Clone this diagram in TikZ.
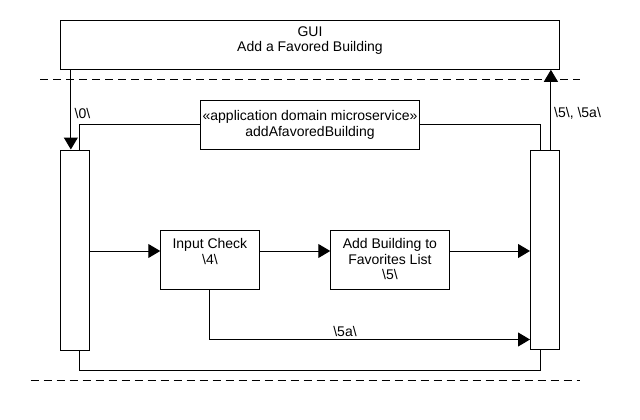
\documentclass[tikz,border=0pt]{standalone}
\usepackage{fontspec}
\setmainfont{Liberation Sans}
\usetikzlibrary{arrows.meta}
\begin{document}
\begin{tikzpicture}[x=1pt,y=-1pt,
 box/.style={draw, line width=1pt, inner sep=0pt},
 txt/.style={align=center, inner sep=0pt, anchor=north, font=\fontsize{14}{15.5}\selectfont},
 lbl/.style={inner sep=0pt, font=\fontsize{14}{16}\selectfont},
 conn/.style={line width=1pt},
 arr/.style={line width=1pt, -{Triangle[length=12pt,width=14pt]}},
 sepline/.style={line width=1pt, dash pattern=on 8pt off 5pt}]
\useasboundingbox (0,0) rectangle (640,420);
% boxes
\node[box, minimum width=498.6pt, minimum height=49pt] (gui) at (310,44.8) {};
\node[box, minimum width=28.3pt, minimum height=200pt] (lbar) at (74.85,250) {};
\node[box, minimum width=28.8pt, minimum height=199.5pt] (rbar) at (544.9,249.75) {};
\node[box, minimum width=218.5pt, minimum height=48.3pt] (ms) at (310,124.9) {};
\node[box, minimum width=98.3pt, minimum height=59.3pt] (ic) at (209.9,259.7) {};
\node[box, minimum width=118.3pt, minimum height=59.3pt] (ab) at (389.9,259.7) {};
% texts
\node[txt] (guit) at (310,26.5) {GUI\\Add a Favored Building};
\node[txt] (mst) at (310,110.5) {«application domain microservice»\\addAfavoredBuilding};
\node[txt] (ict) at (209.9,238.5) {Input Check\\\textbackslash 4\textbackslash};
\node[txt] (abt) at (389.9,238.5) {Add Building to\\Favorites List\\\textbackslash 5\textbackslash};
% labels
\node[lbl] (l0) at (82.5,113) {\textbackslash 0\textbackslash};
\node[lbl, anchor=west] (l5) at (554,113) {\textbackslash 5\textbackslash, \textbackslash 5a\textbackslash};
\node[lbl] (l5a) at (345,331) {\textbackslash 5a\textbackslash};
% separators
\coordinate (d1) at (40,80);
\coordinate (d2) at (580,80);
\coordinate (d3) at (30.7,380);
\coordinate (d4) at (580,380);
\draw[sepline] (d1) -- (d2);
\draw[sepline] (d3) -- (d4);
% helper rows
\coordinate (r1) at (0,251);
\coordinate (r2) at (0,339.5);
\coordinate (fb) at (0,370);
% connectors
\draw[arr] ([xshift=-4pt]lbar.north |- gui.south) -- ([xshift=-4pt]lbar.north);
\draw[arr] ([xshift=6pt]rbar.north) -- ([xshift=6pt]rbar.north |- gui.south);
\draw[conn] (ms.west) -| ([xshift=5pt]lbar.north);
\draw[conn] (ms.east) -| ([xshift=-4pt]rbar.north);
\draw[conn] ([xshift=5pt]lbar.south) -- ([xshift=5pt]lbar.south |- fb) -- ([xshift=-4pt]rbar.south |- fb) -- ([xshift=-4pt]rbar.south);
\draw[arr] (lbar.east |- r1) -- (ic.west |- r1);
\draw[arr] (ic.east |- r1) -- (ab.west |- r1);
\draw[arr] (ab.east |- r1) -- (rbar.west |- r1);
\draw[arr] (ic.south) |- (rbar.west |- r2);
\end{tikzpicture}
\end{document}
